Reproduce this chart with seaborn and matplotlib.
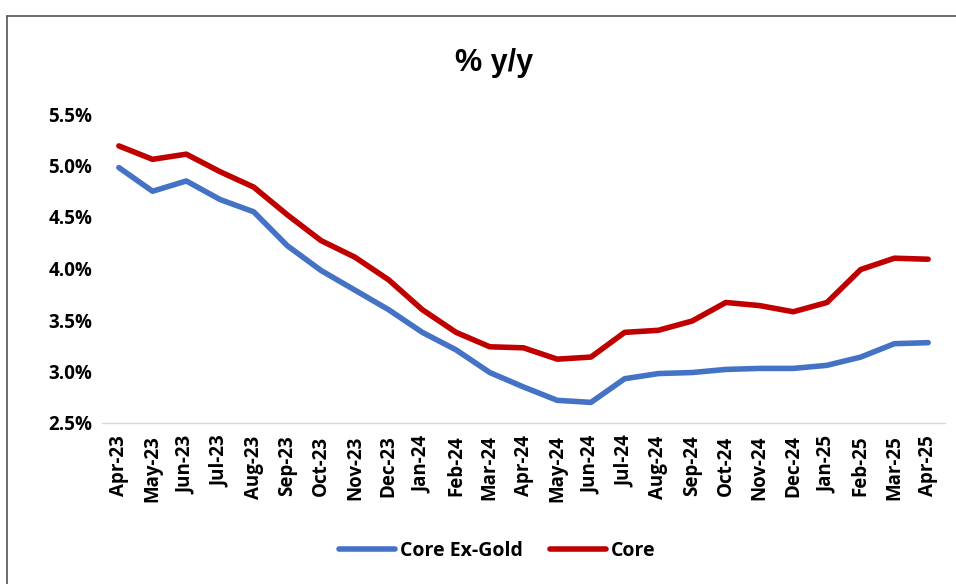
import numpy as np
import pandas as pd
import seaborn as sns
import matplotlib.pyplot as plt
from matplotlib.ticker import PercentFormatter, FixedLocator

meses = ['Apr-23', 'May-23', 'Jun-23', 'Jul-23', 'Aug-23', 'Sep-23', 'Oct-23',
         'Nov-23', 'Dec-23', 'Jan-24', 'Feb-24', 'Mar-24', 'Apr-24', 'May-24',
         'Jun-24', 'Jul-24', 'Aug-24', 'Sep-24', 'Oct-24', 'Nov-24', 'Dec-24',
         'Jan-25', 'Feb-25', 'Mar-25', 'Apr-25']
core_ex_gold = [4.98, 4.75, 4.85, 4.67, 4.55, 4.22, 3.98, 3.79, 3.60, 3.38,
                3.21, 2.99, 2.85, 2.72, 2.70, 2.93, 2.98, 2.99, 3.02, 3.03,
                3.03, 3.06, 3.14, 3.27, 3.28]
core = [5.19, 5.06, 5.11, 4.94, 4.79, 4.52, 4.27, 4.11, 3.89, 3.60,
        3.38, 3.24, 3.23, 3.12, 3.14, 3.38, 3.40, 3.49, 3.67, 3.64,
        3.58, 3.67, 3.99, 4.10, 4.09]

df = pd.DataFrame({'Mes': meses, 'Core Ex-Gold': core_ex_gold, 'Core': core})
df_long = df.melt(id_vars='Mes', var_name='Serie', value_name='Valor')

sns.set_style('white')
plt.rcParams['font.family'] = ['Open Sans', 'DejaVu Sans']
plt.rcParams['text.color'] = 'black'
plt.rcParams['xtick.color'] = 'black'
plt.rcParams['ytick.color'] = 'black'

fig = plt.figure(figsize=(9.56, 5.84), dpi=100)
ax = fig.add_axes([102 / 956, 1 - 423 / 584, 843 / 956, 309 / 584])

sns.lineplot(data=df_long, x='Mes', y='Valor', hue='Serie',
             palette={'Core Ex-Gold': '#4472C4', 'Core': '#C00000'},
             linewidth=4, sort=False, ax=ax)

ax.set_xlim(-0.5, len(meses) - 0.5)
ax.set_ylim(2.5, 5.5)
ax.set_yticks(np.arange(2.5, 5.51, 0.5))
ax.yaxis.set_major_formatter(PercentFormatter(decimals=1))
ax.set_xlabel('')
ax.set_ylabel('')

# ticks between categories, like Excel
ax.set_xticks(range(len(meses)))
ax.set_xticklabels(meses, rotation=90, fontsize=13.5, fontweight='bold')
ax.xaxis.set_minor_locator(FixedLocator(np.arange(-0.5, len(meses), 1)))
ax.tick_params(axis='x', which='major', length=0, pad=9)
ax.tick_params(axis='x', which='minor', length=7, color='#D9D9D9', width=1)
ax.tick_params(axis='y', length=0, labelsize=13.5, pad=7)
for lab in ax.get_yticklabels():
    lab.set_fontweight('bold')

for s in ['top', 'right', 'left']:
    ax.spines[s].set_visible(False)
ax.spines['bottom'].set_color('#D9D9D9')
ax.spines['bottom'].set_linewidth(1)

fig.text(0.517, 1 - 63 / 584, '% y/y', ha='center', va='center',
         fontsize=22, fontweight='bold',
         family=['Liberation Sans', 'DejaVu Sans'])

handles, labels = ax.get_legend_handles_labels()
ax.legend(handles, labels, loc='center', bbox_to_anchor=(0.52, 1 - 551 / 584),
          bbox_transform=fig.transFigure, ncol=2, frameon=False,
          prop={'weight': 'bold', 'size': 14}, handlelength=2.9,
          columnspacing=1.4, handletextpad=0.25)

# frame around the chart
fig.add_artist(plt.Line2D([7 / 956, 7 / 956], [0, 1 - 16 / 584],
                          color='#555555', linewidth=1.2))
fig.add_artist(plt.Line2D([7 / 956, 1], [1 - 16 / 584, 1 - 16 / 584],
                          color='#555555', linewidth=1.2))

plt.savefig('out.png', dpi=100)
